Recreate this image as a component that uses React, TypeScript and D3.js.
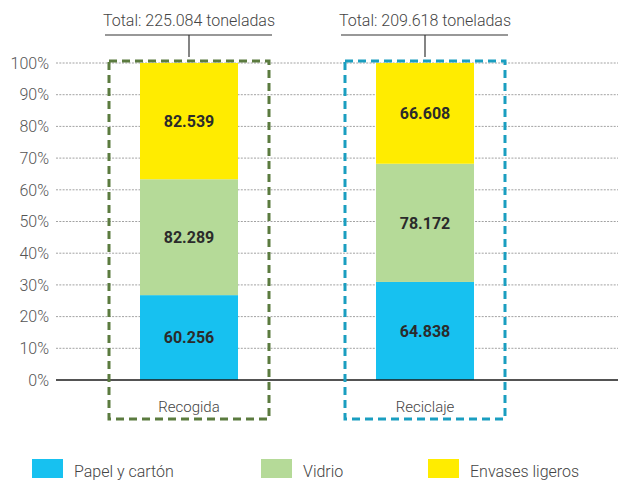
import React from "react";
import * as d3 from "d3";

const categories = ["Recogida", "Reciclaje"];
const totals = ["225.084", "209.618"];
const seriesNames = ["Papel y cartón", "Vidrio", "Envases ligeros"];
const papel = [60.256, 64.838];
const vidrio = [82.289, 78.172];
const envases = [82.539, 66.608];
const tickLabels = ["0%", "10%", "20%", "30%", "40%", "50%", "60%", "70%", "80%", "90%", "100%"];

const colors = ["#17C1F0", "#B5DA98", "#FFEC00"];
const boxColors = ["#5B7B3F", "#1A9EC0"];
const FONT = "Roboto, 'Liberation Sans', Arial, sans-serif";

export default function App() {
  const W = 618, H = 480;
  const y = d3.scaleLinear().domain([0, 1]).range([380, 63]);
  const x = d3.scaleBand().domain(categories).range([71, 543]).paddingInner(0).paddingOuter(0);
  const barW = 98;

  const rows = categories.map((c, i) => {
    const total = papel[i] + vidrio[i] + envases[i];
    return { cat: c, Papel: papel[i] / total, Vidrio: vidrio[i] / total, Envases: envases[i] / total, raw: [papel[i], vidrio[i], envases[i]] };
  });
  const stack = d3.stack<any>().keys(["Papel", "Vidrio", "Envases"])(rows);
  const fmt = (v: number) => v.toFixed(3);

  return (
    <svg width={W} height={H} style={{ position: "absolute", left: 0, top: 0, background: "#fff" }} fontFamily={FONT}>
      {/* gridlines */}
      {tickLabels.map((t, i) => {
        const v = i / 10;
        return i === 0 ? null : (
          <line key={"g" + i} x1={56} x2={W} y1={y(v)} y2={y(v)} stroke="#8a8a8a" strokeWidth={0.8} strokeDasharray="2,1.3" />
        );
      })}
      {/* tick labels */}
      {tickLabels.map((t, i) => (
        <text key={"t" + i} x={49} y={y(i / 10)} dy="0.36em" textAnchor="end" fontSize={16} fill="#555" fontWeight={300}>{t}</text>
      ))}
      {/* bars */}
      {stack.map((s, si) => (
        <g key={"s" + si}>
          {s.map((d, di) => {
            const cx = (x(categories[di]) as number) + x.bandwidth() / 2;
            return (
              <g key={di}>
                <rect x={cx - barW / 2} width={barW} y={y(d[1])} height={y(d[0]) - y(d[1])} fill={colors[si]} />
                <text x={cx} y={(y(d[0]) + y(d[1])) / 2} dy="0.36em" textAnchor="middle" fontSize={16} fontWeight={700} fill="#2b2b2b">
                  {fmt(rows[di].raw[si])}
                </text>
              </g>
            );
          })}
        </g>
      ))}
      {/* axis line */}
      <line x1={56} x2={W} y1={y(0)} y2={y(0)} stroke="#1a1a1a" strokeWidth={1.5} />
      {/* dashed boxes, category labels and totals */}
      {categories.map((c, i) => {
        const cx = (x(c) as number) + x.bandwidth() / 2;
        return (
          <g key={"b" + i}>
            <rect x={cx - 80} y={61} width={160} height={358} fill="none" stroke={boxColors[i]} strokeWidth={3} strokeDasharray="8,5" />
            <text x={cx} y={407} dy="0.36em" textAnchor="middle" fontSize={15} fill="#444" fontWeight={300}>{c}</text>
            <text x={cx} y={20} dy="0.36em" textAnchor="middle" fontSize={16} fill="#444" fontWeight={300}>{"Total: " + totals[i] + " toneladas"}</text>
            <line x1={cx - 84} x2={cx + 83} y1={35} y2={35} stroke="#333" strokeWidth={1.2} />
            <line x1={cx} x2={cx} y1={35} y2={57} stroke="#333" strokeWidth={1.2} />
          </g>
        );
      })}
      {/* legend */}
      {seriesNames.map((n, i) => {
        const lx = [32, 261, 428][i];
        return (
          <g key={"l" + i}>
            <rect x={lx} y={459} width={31} height={19} fill={colors[i]} />
            <text x={lx + 42} y={477} fontSize={16} fill="#444" fontWeight={300}>{n}</text>
          </g>
        );
      })}
    </svg>
  );
}
